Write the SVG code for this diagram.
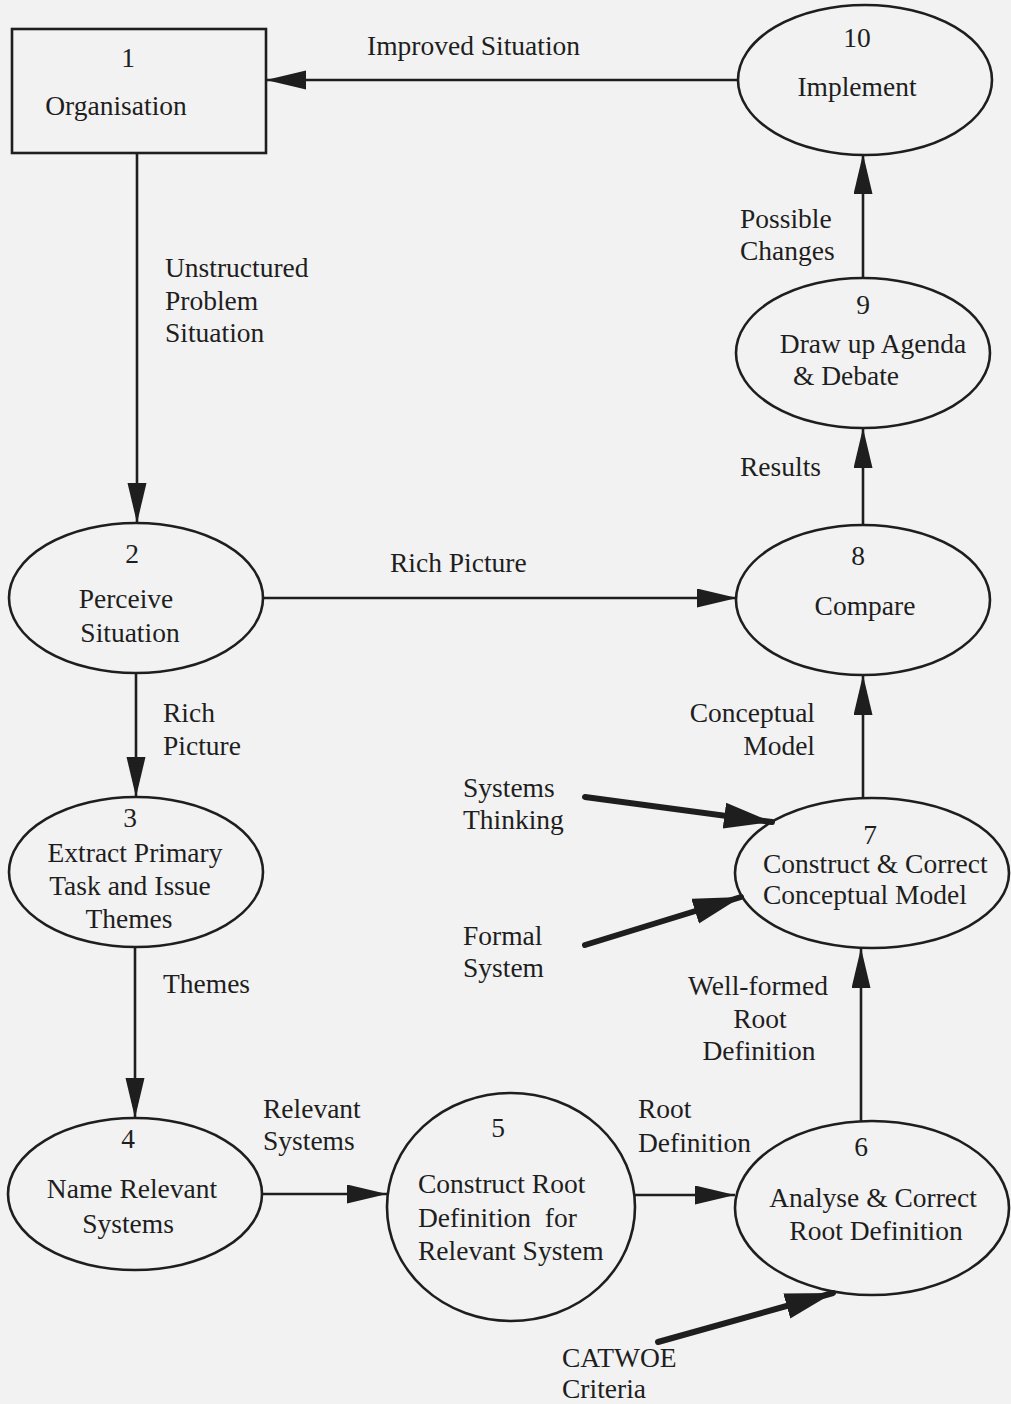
<svg xmlns="http://www.w3.org/2000/svg" width="1011" height="1404" viewBox="0 0 1011 1404">
  <style>
    text { font-family: "Liberation Serif", "Times New Roman", Times, "DejaVu Serif", serif; font-size: 27.5px; fill: #1e1e1e; }
    .c { text-anchor: middle; }
    .e { text-anchor: end; }
    .shape { fill: none; stroke: #1e1e1e; stroke-width: 2.6; }
    .flow { fill: none; stroke: #1e1e1e; stroke-width: 2.6; marker-end: url(#head); }
    .input { fill: none; stroke: #1e1e1e; stroke-width: 6; stroke-linecap: round; marker-end: url(#bighead); }
  </style>
  <defs>
    <marker id="head" markerUnits="userSpaceOnUse" markerWidth="42" markerHeight="20" refX="40" refY="9.5" orient="auto">
      <path d="M0,0 L40,9.5 L0,19 Z" fill="#1e1e1e"/>
    </marker>
    <marker id="bighead" markerUnits="userSpaceOnUse" markerWidth="52" markerHeight="28" refX="48" refY="13" orient="auto">
      <path d="M0,0 L48,13 L0,26 Z" fill="#1e1e1e"/>
    </marker>
  </defs>

  <rect x="0" y="0" width="1011" height="1404" fill="#f2f2f2"/>

  <!-- connectors -->
  <g id="connectors">
    <line class="flow" x1="738" y1="80" x2="266" y2="80"/>
    <line class="flow" x1="137" y1="153" x2="137" y2="523"/>
    <line class="flow" x1="263" y1="598" x2="737" y2="598"/>
    <line class="flow" x1="136" y1="673" x2="136" y2="797"/>
    <line class="flow" x1="135" y1="947" x2="135" y2="1118"/>
    <line class="flow" x1="262" y1="1194" x2="387" y2="1194"/>
    <line class="flow" x1="635" y1="1195" x2="735" y2="1195"/>
    <line class="flow" x1="861" y1="1121" x2="861" y2="948"/>
    <line class="flow" x1="863" y1="798" x2="863" y2="675"/>
    <line class="flow" x1="863" y1="525" x2="863" y2="428"/>
    <line class="flow" x1="863" y1="278" x2="863" y2="154"/>
    <line class="input" x1="585" y1="797" x2="772" y2="822"/>
    <line class="input" x1="585" y1="945" x2="741" y2="897"/>
    <line class="input" x1="658" y1="1342" x2="833" y2="1293"/>

    <text x="367" y="55">Improved Situation</text>
    <text x="165" y="277">Unstructured</text>
    <text x="165" y="310">Problem</text>
    <text x="165" y="342">Situation</text>
    <text x="390" y="572">Rich Picture</text>
    <text x="163" y="722">Rich</text>
    <text x="163" y="755">Picture</text>
    <text x="163" y="993">Themes</text>
    <text x="263" y="1118">Relevant</text>
    <text x="263" y="1150">Systems</text>
    <text x="638" y="1118">Root</text>
    <text x="638" y="1152">Definition</text>
    <text class="c" x="758" y="995">Well-formed</text>
    <text class="c" x="760" y="1028">Root</text>
    <text class="c" x="759" y="1060">Definition</text>
    <text class="e" x="815" y="722">Conceptual</text>
    <text class="e" x="815" y="755">Model</text>
    <text x="740" y="476">Results</text>
    <text x="740" y="228">Possible</text>
    <text x="740" y="260">Changes</text>
    <text x="463" y="797">Systems</text>
    <text x="463" y="829">Thinking</text>
    <text x="463" y="945">Formal</text>
    <text x="463" y="977">System</text>
    <text x="562" y="1367">CATWOE</text>
    <text x="562" y="1398">Criteria</text>
  </g>

  <!-- nodes -->
  <g id="node1">
    <rect class="shape" x="12" y="29" width="254" height="124"/>
    <text class="c" x="128" y="67">1</text>
    <text class="c" x="116" y="115">Organisation</text>
  </g>
  <g id="node2">
    <ellipse class="shape" cx="136" cy="598" rx="127" ry="75"/>
    <text class="c" x="132" y="563">2</text>
    <text class="c" x="126" y="608">Perceive</text>
    <text class="c" x="130" y="642">Situation</text>
  </g>
  <g id="node3">
    <ellipse class="shape" cx="136" cy="872" rx="127" ry="75"/>
    <text class="c" x="130" y="827">3</text>
    <text class="c" x="135" y="862">Extract Primary</text>
    <text class="c" x="130" y="895">Task and Issue</text>
    <text class="c" x="129" y="928">Themes</text>
  </g>
  <g id="node4">
    <ellipse class="shape" cx="135" cy="1194" rx="127" ry="76"/>
    <text class="c" x="128" y="1148">4</text>
    <text class="c" x="132" y="1198">Name Relevant</text>
    <text class="c" x="128" y="1233">Systems</text>
  </g>
  <g id="node5">
    <ellipse class="shape" cx="511" cy="1207" rx="124" ry="114"/>
    <text class="c" x="498" y="1137">5</text>
    <text x="418" y="1193">Construct Root</text>
    <text x="418" y="1227" xml:space="preserve">Definition  for</text>
    <text x="418" y="1260">Relevant System</text>
  </g>
  <g id="node6">
    <ellipse class="shape" cx="872" cy="1208" rx="137" ry="87"/>
    <text class="c" x="861" y="1156">6</text>
    <text class="c" x="873" y="1207">Analyse &amp; Correct</text>
    <text class="c" x="876" y="1240">Root Definition</text>
  </g>
  <g id="node7">
    <ellipse class="shape" cx="872" cy="873" rx="137" ry="75"/>
    <text class="c" x="870" y="844">7</text>
    <text x="763" y="873">Construct &amp; Correct</text>
    <text x="763" y="904">Conceptual Model</text>
  </g>
  <g id="node8">
    <ellipse class="shape" cx="863" cy="600" rx="127" ry="75"/>
    <text class="c" x="858" y="565">8</text>
    <text class="c" x="865" y="615">Compare</text>
  </g>
  <g id="node9">
    <ellipse class="shape" cx="863" cy="353" rx="127" ry="75"/>
    <text class="c" x="863" y="314">9</text>
    <text class="c" x="873" y="353">Draw up Agenda</text>
    <text class="c" x="846" y="385">&amp; Debate</text>
  </g>
  <g id="node10">
    <ellipse class="shape" cx="865" cy="80" rx="127" ry="75"/>
    <text class="c" x="857" y="47">10</text>
    <text class="c" x="857" y="96">Implement</text>
  </g>
</svg>
